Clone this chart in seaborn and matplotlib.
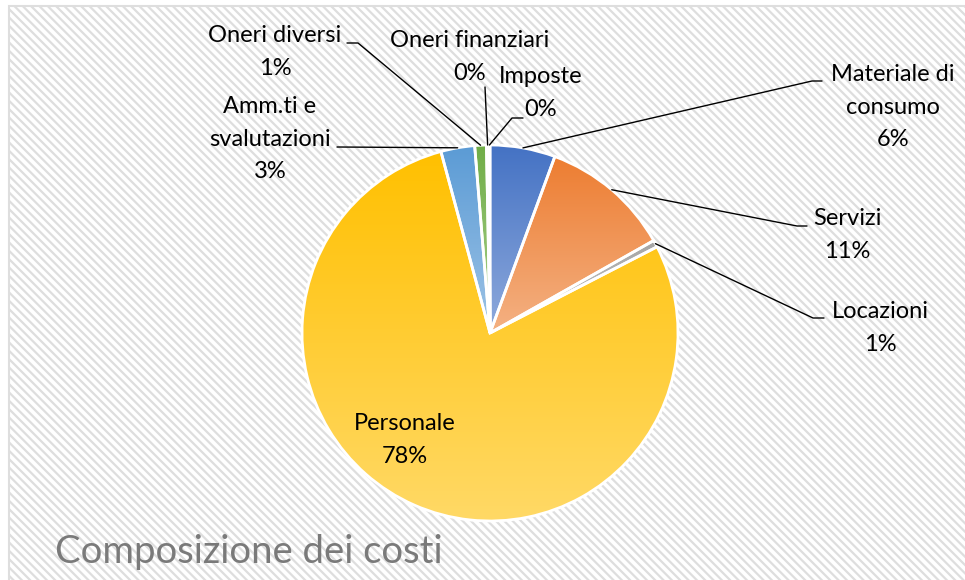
import numpy as np
import seaborn as sns
import matplotlib
matplotlib.use('Agg')
import matplotlib.pyplot as plt
from matplotlib.patches import Rectangle
from matplotlib.colors import LinearSegmentedColormap

# dati
categorie = ["Materiale di\nconsumo", "Servizi", "Locazioni", "Personale",
             "Amm.ti e\nsvalutazioni", "Oneri diversi", "Oneri finanziari", "Imposte"]
valori = [5.6, 11.2, 0.6, 78.3, 2.9, 1.0, 0.2, 0.1]
colori_alto = ["#4472C4", "#ED7D31", "#A5A5A5", "#FFC000", "#5B9BD5", "#70AD47", "#264478", "#9E480E"]
colori_basso = ["#8FAADC", "#F4B183", "#C9C9C9", "#FFD966", "#9DC3E6", "#A9D18E", "#5B7BB5", "#C8865A"]
titolo = "Composizione dei costi"

# posizione etichette (pixel immagine): centro testo, gomito, fine linea
etichette_pos = [(893, 107), (847, 235), (880, 328), (405, 440),
                 (270, 139), (275, 52), (470, 57), (541, 93)]
gomiti = [(812, 81), (797, 226), (813, 318), None,
          (337, 147), (358, 43), (485, 87), (512, 118)]
fine_linea = [(822, 81), (807, 226), (824, 318), None,
              None, (347, 43), None, (523, 118)]

W, H = 965, 580
CX, CY, R = 490, 333, 188
PASSO = 32.5  # distanza tra le righe delle etichette

sns.set_theme(style="white")
plt.rcParams['font.family'] = ['Lato', 'DejaVu Sans']
plt.rcParams['hatch.linewidth'] = 1.6

fig = plt.figure(figsize=(W / 100, H / 100), dpi=100)
ax = fig.add_axes([0, 0, 1, 1])
ax.set_axis_off()

# sfondo tratteggiato
sfondo = Rectangle((9, -5), W, H - 6 + 5, facecolor="white", edgecolor="#DEDEDE",
                   hatch="\\\\\\\\", linewidth=1.5, zorder=0)
ax.add_patch(sfondo)


def yy(y):
    return H - y


wedges, _ = ax.pie(valori, center=(CX, yy(CY)), radius=R, startangle=90,
                   counterclock=False, colors=colori_alto,
                   wedgeprops=dict(edgecolor="white", linewidth=2.0))

# riempimento sfumato
grad = np.linspace(0, 1, 256).reshape(-1, 1)
for w, c1, c2 in zip(wedges, colori_alto, colori_basso):
    ext = w.get_path().get_extents()
    cmap = LinearSegmentedColormap.from_list("g", [c1, c2])
    im = ax.imshow(grad, cmap=cmap, aspect="auto", origin="upper",
                   extent=(ext.x0, ext.x1, ext.y0, ext.y1), zorder=1,
                   interpolation="bilinear")
    im.set_clip_path(w)
    w.set_facecolor("none")
    w.set_zorder(2)

totale = sum(valori)
for i, (w, nome, v) in enumerate(zip(wedges, categorie, valori)):
    theta = np.deg2rad(90 - (sum(valori[:i]) + v / 2) / totale * 360)
    px, py = CX + R * np.cos(theta), yy(CY) + R * np.sin(theta)
    perc = f"{round(v / totale * 100):.0f}%"
    righe = nome.split("\n") + [perc]
    tx, ty = etichette_pos[i]
    y0 = ty - PASSO * (len(righe) - 1) / 2
    for k, riga in enumerate(righe):
        ax.text(tx, yy(y0 + k * PASSO), riga, ha="center", va="center",
                fontsize=17, color="black", zorder=4)
    if gomiti[i] is not None:
        xs = [px, gomiti[i][0]]
        ys = [py, yy(gomiti[i][1])]
        if fine_linea[i] is not None:
            xs.append(fine_linea[i][0])
            ys.append(yy(fine_linea[i][1]))
        ax.plot(xs, ys, color="black", linewidth=1.0, zorder=3)

ax.text(55, yy(552), titolo, ha="left", va="center", fontsize=27.5,
        color="#7A7A7A", fontweight="normal", zorder=4)

ax.set_xlim(0, W)
ax.set_ylim(0, H)
ax.set_aspect("equal")

fig.savefig("out.png", dpi=100)
